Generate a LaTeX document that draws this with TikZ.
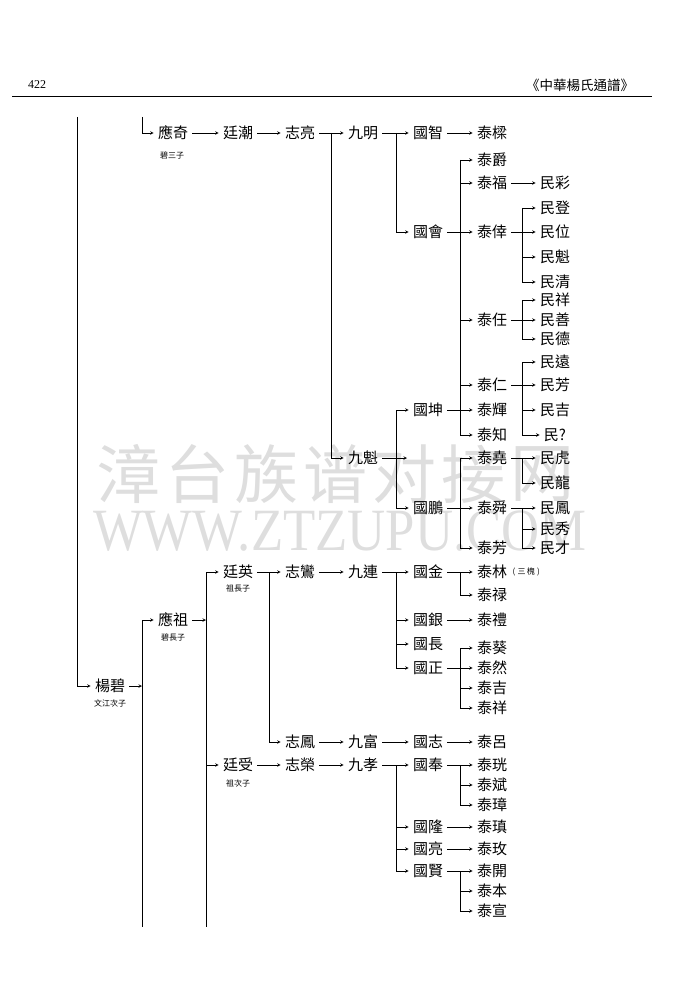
\documentclass[tikz,border=0pt]{standalone}
\usepackage{fontspec}
\setmainfont{Liberation Serif}
\newfontfamily\cjk{Noto Sans CJK TC}
\newfontfamily\cjksc{Noto Sans CJK SC}
\usepackage{xcolor}
\definecolor{wmgray}{RGB}{222,222,222}
\tikzset{nm/.style={font=\cjk\fontsize{15}{15}\selectfont, inner sep=4pt},
  note/.style={font=\cjk\fontsize{8}{8}\selectfont, inner sep=1pt}}

\begin{document}
\begin{tikzpicture}[x=1pt,y=-1pt,>=stealth,line width=.6pt]
  \useasboundingbox (0,0) rectangle (675,1000);
  % watermark
  \foreach \c [count=\i] in {漳,台,族,谱,对,接,网}
    \node[font=\cjksc\fontsize{64}{64}\selectfont,text=wmgray] (wm\i) at (128+69*\i-69,474) {\c};
  \node[font=\fontsize{60}{60}\selectfont,text=wmgray,xscale=.88] (wmurl) at (340,531) {WWW.ZTZUPU.COM};
  % header
  \node[font=\fontsize{12}{12}\selectfont] (pg) at (37,85) {422};
  \node[font=\cjk\fontsize{13.5}{14}\selectfont] (ttl) at (580,85) {《中華楊氏通譜》};
  \draw[line width=.9pt] (12,96) -- (652,96);
  % bracket columns
  \coordinate (vA) at (77,0);  \coordinate (vB) at (142,0);
  \coordinate (vC) at (206,0); \coordinate (vD) at (269,0);
  \coordinate (vE) at (331,0); \coordinate (vF) at (396,0);
  \coordinate (vG) at (460,0); \coordinate (vH) at (522,0);
  \coordinate (topA) at (77,117); \coordinate (topB) at (142,117);
  \coordinate (botB) at (142,927); \coordinate (botC) at (206,927);
  \coordinate (jkEnd) at (407,458);
  % names
  \foreach \n/\x/\y/\t in {yq/173/133/應奇, tc/238/133/廷潮, zl/300/133/志亮,
      jm/363/133/九明, gz/428/133/國智, tl/492/133/泰樑, tj/492/160/泰爵,
      tf/492/183/泰福, mc/555/183/民彩, gh/428/232/國會, tx/492/232/泰倖,
      md/555/208/民登, mw/555/232/民位, mk/555/257/民魁, mq/555/282/民清,
      tr/492/320/泰任, mx/555/300/民祥, ms/555/320/民善, mde/555/339/民德,
      tre/492/385/泰仁, my/555/362/民遠, mf/555/385/民芳, mj/555/410/民吉,
      mu/555/435/民?, jk/363/458/九魁, gk/428/410/國坤, th/492/410/泰輝,
      tz/492/435/泰知, gp/428/508/國鵬, ty/492/458/泰堯, mh/555/458/民虎,
      ml/555/483/民龍, ts/492/508/泰舜, mfe/555/508/民鳳, mxi/555/529/民秀,
      mca/555/548/民才, tfa/492/548/泰芳}
    \node[nm] (\n) at (\x,\y) {\t};
  \foreach \n/\x/\y/\t in {yb/110/686/楊碧, yz/173/620/應祖, tyi/238/572/廷英,
      zla/300/572/志鸞, jl/363/572/九連, gj/428/572/國金, tli/492/572/泰林,
      tlu/492/595/泰禄, gy/428/620/國銀, tlb/492/620/泰禮, gc/428/644/國長,
      gzh/428/668/國正, tk/492/648/泰葵, tra/492/668/泰然, tji/492/688/泰吉,
      txi/492/708/泰祥, zf/300/742/志鳳, jf/363/742/九富, gzi/428/742/國志,
      tlv/492/742/泰呂, tsh/238/765/廷受, zr/300/765/志榮, jx/363/765/九孝,
      gf/428/765/國奉, tg/492/765/泰珖, tb/492/785/泰斌, tzh/492/805/泰璋,
      gl/428/827/國隆, tt/492/827/泰瑱, gli/428/849/國亮, tm/492/849/泰玫,
      gxi/428/871/國賢, tka/492/871/泰開, tbe/492/891/泰本, txu/492/911/泰宣}
    \node[nm] (\n) at (\x,\y) {\t};
  % notes
  \node[note] (yqn) at (172,155) {碧三子};
  \node[note] (yzn) at (173,637) {碧長子};
  \node[note] (tyn) at (238,588) {祖長子};
  \node[note] (tsn) at (238,783) {祖次子};
  \node[note] (ybn) at (110,703) {文江次子};
  \node[note,anchor=west] (tlin) at (tli.east) {(\;三\,槐\;)};
  % trunk lines
  \draw (topA) -- (vA |- yb);
  \draw[->] (vA |- yb) -- (yb);
  \draw (topB) -- (vB |- yq);
  \draw[->] (vB |- yq) -- (yq);
  \draw[->] (yb) -- (vB |- yb);
  \draw (vB |- yz) -- (botB);
  \draw[->] (yz) -- (vC |- yz);
  \draw (vC |- tyi) -- (botC);
  \draw[->] (jk) -- (jkEnd);
  \draw (vF |- gk) -- (vF |- gp);
  % single lines
  \foreach \a/\b in {yq/tc, tc/zl, gz/tl, tf/mc, zla/jl, zf/jf, jf/gzi,
      gzi/tlv, tsh/zr, zr/jx, gy/tlb, gl/tt, gli/tm}
    \draw[->] (\a) -- (\b);
  % brackets
  \foreach \p/\v/\f/\l in {zl/vE/jm/jk, jm/vF/gz/gh, gh/vG/tj/th, tx/vH/md/mq,
      tr/vH/mx/mde, tre/vH/my/mu, gk/vG/th/tz, gp/vG/ty/tfa, ty/vH/mh/ml,
      ts/vH/mfe/mca, tyi/vD/zla/zf, jl/vF/gj/gzh, gj/vG/tli/tlu, gzh/vG/tk/txi,
      jx/vF/gf/gxi, gf/vG/tg/tzh, gxi/vG/tka/txu}
    {\draw (\p) -- (\v |- \p);
     \draw (\v |- \f) -- (\v |- \l);}
  \foreach \v/\c in {vB/yz, vC/tyi, vC/tsh, vD/zla, vD/zf, vE/jm, vE/jk,
      vF/gz, vF/gh, vF/gk, vF/gp, vF/gj, vF/gy, vF/gc, vF/gzh, vF/gf, vF/gl,
      vF/gli, vF/gxi, vG/tj, vG/tf, vG/tx, vG/tr, vG/tre, vG/th, vG/tz,
      vG/ty, vG/ts, vG/tfa, vG/tli, vG/tlu, vG/tk, vG/tra, vG/tji, vG/txi,
      vG/tg, vG/tb, vG/tzh, vG/tka, vG/tbe, vG/txu, vH/md, vH/mw, vH/mk,
      vH/mq, vH/mx, vH/ms, vH/mde, vH/my, vH/mf, vH/mj, vH/mu, vH/mh,
      vH/ml, vH/mfe, vH/mxi, vH/mca}
    \draw[->] (\v |- \c) -- (\c);
\end{tikzpicture}
\end{document}
